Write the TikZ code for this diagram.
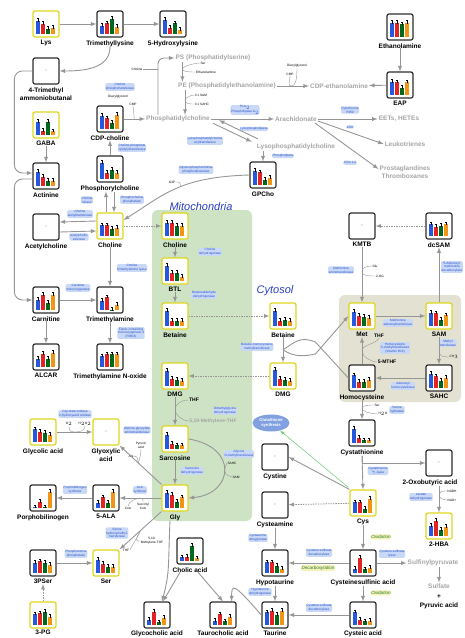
\documentclass[tikz,border=0pt]{standalone}
\usepackage{fontspec}
\setmainfont{Liberation Sans}
\usetikzlibrary{shapes.geometric, arrows, positioning, calc}
\definecolor{boxK}{RGB}{45,45,45}
\definecolor{boxY}{RGB}{222,214,28}
\definecolor{barB}{RGB}{38,88,222}
\definecolor{barR}{RGB}{228,36,36}
\definecolor{barG}{RGB}{0,105,30}
\definecolor{barO}{RGB}{240,150,20}
\definecolor{lineG}{RGB}{150,150,150}
\definecolor{txtG}{RGB}{165,165,165}
\definecolor{enzB}{RGB}{40,80,200}
\definecolor{enzF}{RGB}{200,216,246}
\definecolor{mitoG}{RGB}{205,227,196}
\definecolor{cytoG}{RGB}{226,225,210}
\definecolor{gshB}{RGB}{128,160,224}
\definecolor{gshL}{RGB}{110,200,110}
\definecolor{hlY}{RGB}{246,244,190}
\definecolor{oxG}{RGB}{40,120,40}
\definecolor{ttlB}{RGB}{40,60,190}

% four bars with error bars inside a metabolite box
\newcommand{\bars}[5]{%
  \begin{scope}[shift={(#1.center)}]
    \foreach \h/\c [count=\i] in {#2/barB,#3/barR,#4/barG,#5/barO}{
      \fill[\c] (-15+5*\i,10) rectangle ++(4,-18*\h);
      \draw[line width=0.3pt] (-13+5*\i,11-18*\h) -- ++(0,-3.5);
      \draw[line width=0.3pt] (-14+5*\i,7.5-18*\h) -- ++(2,0);
    }
  \end{scope}}

\begin{document}
\begin{tikzpicture}[
        x=1pt, y=-1pt,
        mb/.style={draw=boxK, line width=1.2pt, rounded corners=2pt, minimum size=26pt, inner sep=0pt, fill=white, text=black!60, font=\fontsize{4}{4}\selectfont},
        yb/.style={mb, draw=boxY},
        lbl/.style={font=\fontsize{6.5}{8}\selectfont\bfseries, inner sep=0pt, align=center},
        lip/.style={font=\fontsize{6.5}{8}\selectfont\bfseries, text=txtG, inner sep=1pt, align=center},
        enz/.style={font=\fontsize{3.2}{3.8}\selectfont, text=enzB, fill=enzF, inner sep=0.6pt, rounded corners=1.5pt, align=center},
        cof/.style={font=\fontsize{3.2}{3.8}\selectfont, inner sep=0.5pt, align=center},
        cofb/.style={font=\fontsize{5}{6}\selectfont\bfseries, inner sep=0.5pt, align=center},
        proc/.style={font=\fontsize{4.6}{5}\selectfont\itshape, text=oxG, fill=hlY, rounded corners=3pt, inner sep=1pt},
        ttl/.style={font=\fontsize{11}{12}\selectfont\itshape, text=ttlB, inner sep=0pt},
        arr/.style={-latex, line width=0.9pt, draw=lineG},
        darr/.style={arr, dash pattern=on 1.5pt off 1pt, line width=0.8pt},
        thn/.style={line width=0.4pt, draw=lineG}
    ]
    \useasboundingbox (0,0) rectangle (464,638);

    % compartments
    \fill[mitoG, rounded corners=6pt] (152,210) rectangle (252,521);
    \fill[cytoG, rounded corners=6pt] (339,295) rectangle (461,402);
    \node[ttl] (mito) at (201,207) {Mitochondria};
    \node[ttl] (cyto) at (275,291) {Cytosol};

    % metabolite boxes
    \node[yb] (lys)     at (46,24)   {};
    \node[mb] (tmlys)   at (110,24)  {};
    \node[mb] (hlys)    at (173,24)  {};
    \node[mb] (tmab)    at (46,71)   {--};
    \node[yb] (gaba)    at (46,125)  {};
    \node[mb] (actin)   at (46,176)  {};
    \node[mb] (cdpc)    at (110,119) {};
    \node[mb] (pchol)   at (110,169) {};
    \node[mb] (achol)   at (46,227)  {--};
    \node[yb] (chol)    at (110,226) {};
    \node[mb] (carn)    at (46,300)  {};
    \node[mb] (tma)     at (110,300) {};
    \node[mb] (alcar)   at (46,357)  {};
    \node[mb] (tmao)    at (110,357) {};
    \node[yb] (glyc)    at (43,432)  {};
    \node[yb] (glyox)   at (106,432) {--};
    \node[mb] (pbg)     at (43,498)  {};
    \node[mb] (ala)     at (106,498) {};
    \node[mb] (pser)    at (43,563)  {};
    \node[yb] (ser)     at (106,563) {};
    \node[yb] (pg)      at (43,615)  {};
    \node[mb] (gpc)     at (263,175) {};
    \node[yb] (mchol)   at (175,226) {};
    \node[yb] (btl)     at (175,271) {};
    \node[yb] (mbet)    at (175,316) {};
    \node[yb] (cbet)    at (283,316) {};
    \node[yb] (mdmg)    at (175,376) {};
    \node[yb] (cdmg)    at (283,376) {};
    \node[yb] (sarc)    at (175,439) {};
    \node[yb] (gly)     at (175,498) {};
    \node[mb] (cholic)  at (190,551) {};
    \node[mb] (glycoch) at (157,615) {};
    \node[mb] (tauroch) at (223,615) {};
    \node[mb] (etn)     at (400,27)  {};
    \node[mb] (eap)     at (400,85)  {};
    \node[mb] (kmtb)    at (362,226) {--};
    \node[mb] (dcsam)   at (439,226) {};
    \node[yb] (met)     at (362,316) {};
    \node[yb] (sam)     at (439,316) {};
    \node[mb] (hcy)     at (362,378) {};
    \node[mb] (sahc)    at (439,378) {};
    \node[mb] (cysta)   at (362,433) {};
    \node[mb] (oxob)    at (439,463) {--};
    \node[mb] (cystine) at (275,457) {--};
    \node[yb] (cys)     at (363,503) {};
    \node[yb] (hba)     at (439,526) {};
    \node[mb] (cysteam) at (275,505) {--};
    \node[mb] (csa)     at (363,563) {};
    \node[mb] (hypot)   at (275,563) {};
    \node[mb] (taur)    at (275,615) {};
    \node[mb] (cysteic) at (363,615) {};

    % names under the boxes
    \node[lbl, below=2.5pt of lys]     (lys-l)     {Lys};
    \node[lbl, below=2.5pt of tmlys]   (tmlys-l)   {Trimethyllysine};
    \node[lbl, below=2.5pt of hlys]    (hlys-l)    {5-Hydroxylysine};
    \node[lbl, below=2.5pt of tmab]    (tmab-l)    {4-Trimethyl\\ammoniobutanal};
    \node[lbl, below=2.5pt of gaba]    (gaba-l)    {GABA};
    \node[lbl, below=2.5pt of actin]   (actin-l)   {Actinine};
    \node[lbl, below=2.5pt of cdpc]    (cdpc-l)    {CDP-choline};
    \node[lbl, below=2.5pt of pchol]   (pchol-l)   {Phosphorylcholine};
    \node[lbl, below=2.5pt of achol]   (achol-l)   {Acetylcholine};
    \node[lbl, below=2.5pt of chol]    (chol-l)    {Choline};
    \node[lbl, below=2.5pt of carn]    (carn-l)    {Carnitine};
    \node[lbl, below=2.5pt of tma]     (tma-l)     {Trimethylamine};
    \node[lbl, below=2.5pt of alcar]   (alcar-l)   {ALCAR};
    \node[lbl, below=2.5pt of tmao]    (tmao-l)    {Trimethylamine N-oxide};
    \node[lbl, below=2.5pt of glyc]    (glyc-l)    {Glycolic acid};
    \node[lbl, below=2.5pt of glyox]   (glyox-l)   {Glyoxylic\\acid};
    \node[lbl, below=2.5pt of pbg]     (pbg-l)     {Porphobilinogen};
    \node[lbl, below=2.5pt of ala]     (ala-l)     {5-ALA};
    \node[lbl, below=2.5pt of pser]    (pser-l)    {3PSer};
    \node[lbl, below=2.5pt of ser]     (ser-l)     {Ser};
    \node[lbl, below=1.5pt of pg]      (pg-l)      {3-PG};
    \node[lbl, below=2.5pt of gpc]     (gpc-l)     {GPCho};
    \node[lbl, below=2.5pt of mchol]   (mchol-l)   {Choline};
    \node[lbl, below=2.5pt of btl]     (btl-l)     {BTL};
    \node[lbl, below=2.5pt of mbet]    (mbet-l)    {Betaine};
    \node[lbl, below=2.5pt of cbet]    (cbet-l)    {Betaine};
    \node[lbl, below=2.5pt of mdmg]    (mdmg-l)    {DMG};
    \node[lbl, below=2.5pt of cdmg]    (cdmg-l)    {DMG};
    \node[lbl, below=2.5pt of sarc]    (sarc-l)    {Sarcosine};
    \node[lbl, below=2.5pt of gly]     (gly-l)     {Gly};
    \node[lbl, below=2.5pt of cholic]  (cholic-l)  {Cholic acid};
    \node[lbl, below=1.5pt of glycoch] (glycoch-l) {Glycocholic acid};
    \node[lbl, below=1.5pt of tauroch] (tauroch-l) {Taurocholic acid};
    \node[lbl, below=2.5pt of etn]     (etn-l)     {Ethanolamine};
    \node[lbl, below=2.5pt of eap]     (eap-l)     {EAP};
    \node[lbl, below=2.5pt of kmtb]    (kmtb-l)    {KMTB};
    \node[lbl, below=2.5pt of dcsam]   (dcsam-l)   {dcSAM};
    \node[lbl, below=2.5pt of met]     (met-l)     {Met};
    \node[lbl, below=2.5pt of sam]     (sam-l)     {SAM};
    \node[lbl, below=2.5pt of hcy]     (hcy-l)     {Homocysteine};
    \node[lbl, below=2.5pt of sahc]    (sahc-l)    {SAHC};
    \node[lbl, below=2.5pt of cysta]   (cysta-l)   {Cystathionine};
    \node[lbl, below=2.5pt of oxob, xshift=-9pt] (oxob-l) {2-Oxobutyric acid};
    \node[lbl, below=2.5pt of cystine] (cystine-l) {Cystine};
    \node[lbl, below=2.5pt of cys]     (cys-l)     {Cys};
    \node[lbl, below=2.5pt of hba]     (hba-l)     {2-HBA};
    \node[lbl, below=2.5pt of cysteam] (cysteam-l) {Cysteamine};
    \node[lbl, below=2.5pt of csa]     (csa-l)     {Cysteinesulfinic acid};
    \node[lbl, below=2.5pt of hypot]   (hypot-l)   {Hypotaurine};
    \node[lbl, below=1.5pt of taur]    (taur-l)    {Taurine};
    \node[lbl, below=1.5pt of cysteic] (cysteic-l) {Cysteic acid};

    % bar charts
    \bars{lys}{.75}{.55}{.3}{.35}
    \bars{tmlys}{.45}{.6}{.85}{.4}
    \bars{hlys}{.8}{.35}{.6}{.25}
    \bars{gaba}{.75}{.25}{.75}{.2}
    \bars{actin}{.8}{.5}{.3}{.3}
    \bars{cdpc}{.75}{.6}{.35}{.8}
    \bars{pchol}{.9}{.35}{.5}{.35}
    \bars{chol}{.6}{.6}{.4}{.45}
    \bars{carn}{.55}{.85}{.4}{.85}
    \bars{tma}{.5}{.7}{.02}{.3}
    \bars{alcar}{.45}{.75}{.45}{.8}
    \bars{tmao}{.6}{.7}{.7}{.7}
    \bars{glyc}{.7}{.55}{.5}{.4}
    \bars{pbg}{.03}{.35}{.03}{.9}
    \bars{ala}{.3}{.6}{.3}{.9}
    \bars{pser}{.55}{.65}{.55}{.45}
    \bars{ser}{.75}{.5}{.35}{.35}
    \bars{pg}{.6}{.65}{.75}{.45}
    \bars{gpc}{.8}{.7}{.3}{.4}
    \bars{mchol}{.75}{.75}{.55}{.55}
    \bars{btl}{.85}{.45}{.45}{.25}
    \bars{mbet}{.85}{.3}{.3}{.3}
    \bars{cbet}{.85}{.3}{.35}{.3}
    \bars{mdmg}{.85}{.4}{.35}{.3}
    \bars{cdmg}{.9}{.4}{.35}{.3}
    \bars{sarc}{.8}{.3}{.2}{.2}
    \bars{gly}{.85}{.75}{.35}{.6}
    \bars{cholic}{.2}{.25}{.85}{.15}
    \bars{glycoch}{.3}{.75}{.15}{.4}
    \bars{tauroch}{.25}{.6}{.2}{.45}
    \bars{etn}{.8}{.8}{.7}{.8}
    \bars{eap}{.75}{.7}{.4}{.7}
    \bars{dcsam}{.65}{.5}{.55}{.65}
    \bars{met}{.8}{.55}{.5}{.45}
    \bars{sam}{.75}{.7}{.35}{.6}
    \bars{hcy}{.7}{.35}{.35}{.45}
    \bars{sahc}{.8}{.65}{.4}{.55}
    \bars{cysta}{.8}{.3}{.15}{.15}
    \bars{cys}{.6}{.6}{.25}{.8}
    \bars{hba}{.55}{.85}{.35}{.5}
    \bars{csa}{.25}{.85}{.2}{.3}
    \bars{hypot}{.6}{.6}{.4}{.25}
    \bars{taur}{.7}{.8}{.55}{.8}
    \bars{cysteic}{.7}{.3}{.2}{.25}

    % lipid names (grey)
    \node[lip] (ps)      at (213,58)  {PS (Phosphatidylserine)};
    \node[lip] (pe)      at (227,86)  {PE (Phosphatidylethanolamine)};
    \node[lip] (pc)      at (178,119) {Phosphatidylcholine};
    \node[lip] (cdpe)    at (339,86)  {CDP-ethanolamine};
    \node[lip] (arach)   at (296,119) {Arachidonate};
    \node[lip] (eets)    at (399,119) {EETs, HETEs};
    \node[lip] (leuk)    at (405,144) {Leukotrienes};
    \node[lip] (prost)   at (405,172) {Prostaglandines\\Thromboxanes};
    \node[lip] (lpc)     at (296,147) {Lysophosphatidylcholine};
    \node[lip] (sulfp)   at (433,563) {Sulfinylpyruvate};
    \node[lip] (sulfate) at (439,586) {Sulfate};
    \node[lbl] (plus)    at (439,597) {+};
    \node[lbl] (pyr)     at (439,606) {Pyruvic acid};
    \node[ellipse, fill=gshB, text=white, font=\fontsize{4.2}{5}\selectfont\bfseries, inner sep=0.3pt, minimum width=37pt, minimum height=17pt, align=center] (gsh) at (271,423) {Glutathione\\synthesis};

    % enzymes
    \node[enz] (e-cpt)   at (120,87)  {Choline\\phosphotransferase};
    \node[enz] (e-pcyt)  at (132,148) {Choline-phosphate\\cytidylyltransferase};
    \node[enz] (e-ck)    at (87,200)  {Choline\\kinase};
    \node[enz] (e-pp)    at (132,200) {Phosphocholine\\phosphatase};
    \node[enz] (e-chat)  at (80,214)  {Choline\\acetyltransferase};
    \node[enz] (e-ache)  at (79,237)  {Acetylcholin-\\esterase};
    \node[enz] (e-ctl)   at (132,268) {Choline\\trimethylamine lyase};
    \node[enz] (e-cmo)   at (78,288)  {Carnitine\\monooxygenase};
    \node[enz] (e-fmo)   at (131,333) {Flavin-containing\\monooxygenase 3\\(FMO3)};
    \node[enz] (e-go)    at (75,414)  {Glycolate oxidase\\2-hydroxyacid oxidase};
    \node[enz] (e-agt)   at (137,430) {Alanine-glyoxylate\\aminotransferase};
    \node[enz] (e-pbgs)  at (75,490)  {Porphobilinogen\\synthase};
    \node[enz] (e-alas)  at (140,490) {ALA\\synthase};
    \node[enz] (e-shmt)  at (117,533) {Serine\\hydroxymethyl-\\transferase};
    \node[enz] (e-psp)   at (76,554)  {Phosphoserine\\phosphatase};
    \node[enz] (e-gpcpd) at (196,170) {Glycerophosphocholine\\phosphodiesterase};
    \node[enz] (e-lpl)   at (254,129) {Lysophospholipase};
    \node[enz] (e-lpcat) at (205,141) {Lysophosphatidylcholine\\acyltransferase};
    \node[enz] (e-pla)   at (245,110) {PLA$_2$\\Phospholipase A$_2$};
    \node[enz] (e-pl)    at (283,156) {Phospholipase};
    \node[enz] (e-cyp)   at (350,110) {Cytochrome\\P450};
    \node[enz] (e-lox)   at (350,127) {LOX};
    \node[enz] (e-cox)   at (350,163) {COX-1,2};
    \node[enz] (e-chdh)  at (210,252) {Choline\\dehydrogenase};
    \node[enz] (e-badh)  at (204,295) {Betainealdehyde\\dehydrogenase};
    \node[enz] (e-bhmt)  at (257,347) {Betaine-homocysteine\\methyltransferase};
    \node[enz] (e-dmgdh) at (225,411) {Dimethylglycine\\dehydrogenase};
    \node[enz] (e-gnmt)  at (239,454) {Glycine\\N-methyltransferase};
    \node[enz] (e-sardh) at (192,471) {Sarcosine\\dehydrogenase};
    \node[enz] (e-at)    at (341,270) {Methionine\\aminotransferase};
    \node[enz] (e-amd)   at (452,267) {S-Adenosyl-\\methionine\\decarboxylase};
    \node[enz] (e-mat)   at (398,323) {Methionine\\adenosyltransferase};
    \node[enz] (e-mt)    at (448,343) {Methyl\\transferase};
    \node[enz] (e-ms)    at (395,348) {Homocysteine\\S-methyltransferase\\(Vitamin B12)};
    \node[enz] (e-ahcy)  at (403,386) {Adenosyl\\homocysteinase};
    \node[enz] (e-sh)    at (397,410) {Serine\\hydratase};
    \node[enz] (e-cgl)   at (378,471) {Cystathionine\\$\gamma$-lyase};
    \node[enz] (e-ldh)   at (421,497) {Lactate\\dehydrogenase};
    \node[enz] (e-cdo)   at (258,538) {Cysteamine\\dioxygenase};
    \node[enz] (e-csl)   at (392,554) {Cysteine sulfinate\\lyase};
    \node[enz] (e-csd1)  at (319,553) {Cysteine sulfinate\\decarboxylase};
    \node[enz] (e-htdh)  at (260,592) {Hypotaurine\\dehydrogenase};
    \node[enz] (e-csd2)  at (319,608) {Cysteine sulfinate\\decarboxylase};
    \node[proc] (p-ox1)  at (381,537) {Oxidation};
    \node[proc] (p-dec)  at (318,568) {Decarboxylation};
    \node[proc] (p-ox2)  at (381,593) {Oxidation};

    % cofactors
    \node[cof]  (c-cho)   at (137,69)  {Choline};
    \node[cof]  (c-dag1)  at (118,97)  {Diacylglycerol};
    \node[cof]  (c-cmp1)  at (133,104) {CMP};
    \node[cof]  (c-ser1)  at (203,63)  {Ser};
    \node[cof]  (c-etn)   at (206,72)  {Ethanolamine};
    \node[cof]  (c-sam1)  at (201,95)  {3 x SAM};
    \node[cof]  (c-sahc1) at (202,104) {3 x SAHC};
    \node[cof]  (c-dag2)  at (297,66)  {Diacylglycerol};
    \node[cof]  (c-cmp2)  at (290,74)  {CMP};
    \node[cof]  (c-g3p)   at (172,182) {G3P};
    \node[cofb] (c-thf1)  at (194,400) {THF};
    \node[cofb, text=txtG] (c-mthf1) at (213,421) {5,10-Methylene-THF};
    \node[cof]  (c-sahc2) at (232,463) {SAHC};
    \node[cof]  (c-sam2)  at (236,477) {SAM};
    \node[cof]  (c-o2)    at (69,424)  {O$_2$};
    \node[cof]  (c-h2o2)  at (85,424)  {H$_2$O$_2$};
    \node[cof]  (c-pyr)   at (141,445) {Pyruvic\\acid};
    \node[cof]  (c-ala)   at (131,456) {Ala};
    \node[cof]  (c-coa)   at (128,508) {CoA};
    \node[cof]  (c-scoa)  at (143,506) {Succinyl\\CoA};
    \node[cof]  (c-mthf2) at (152,541) {5,10-\\Methylene-THF};
    \node[cof]  (c-thf2)  at (126,550) {THF};
    \node[cof]  (c-glu)   at (375,266) {Glu};
    \node[cof]  (c-og)    at (380,276) {2-OG};
    \node[cof]  (c-ch3)   at (454,357) {CH$_3$};
    \node[cofb] (c-thf3)  at (379,336) {THF};
    \node[cofb] (c-mthf3) at (387,362) {5-MTHF};
    \node[cof]  (c-ser2)  at (377,405) {Ser};
    \node[cof]  (c-h2o)   at (383,414) {H$_2$O};
    \node[cof]  (c-nadh)  at (452,491) {NADH};
    \node[cof]  (c-nad)   at (452,500) {NAD+};

    % lysine / carnitine
    \draw[arr] (lys) -- (tmlys);
    \draw[arr] (tmlys) -- (hlys);
    \draw[arr] (tmlys-l.south) .. controls +(0,20) and +(30,0) .. (tmab.east);
    \draw[arr, rounded corners=8pt] (tmab.west) -- ++(-18,0) |- ($(actin.west)+(0,-3)$);
    \draw[arr, rounded corners=8pt] ($(actin.west)+(0,3)$) -- ++(-18,0) |- (carn.west);
    \draw[arr] (gaba-l.south) -- (actin.north);
    \draw[arr] (carn) -- (tma);
    \draw[arr] (carn-l.south) -- (alcar.north);
    \draw[arr] (tma-l.south) -- (tmao.north);

    % choline
    \draw[arr] (pchol.north) -- (cdpc-l.south);
    \draw[arr] ($(chol.north)+(-4,0)$) -- ($(pchol-l.south)+(-4,0)$);
    \draw[arr] ($(pchol-l.south)+(4,0)$) -- ($(chol.north)+(4,0)$);
    \draw[arr] ($(chol.west)+(0,-5)$) -- ($(achol.east)+(0,-5)$);
    \draw[arr] ($(achol.east)+(0,5)$) -- ($(chol.west)+(0,5)$);
    \draw[arr] (chol-l.south) -- (tma.north);
    \draw[darr] (chol) -- (mchol);
    \draw[arr] (cdpc) -- coordinate[pos=.5] (cptd) (pc);
    \draw[thn] (cptd) -- (c-cmp1.south);

    % phospholipids
    \coordinate (pcup) at ($(pc.north west)+(13,0)$);
    \draw[arr, rounded corners=6pt] (pcup) |- (ps.west);
    \draw[thn] (c-cho.east) -- (c-cho.east -| pcup);
    \coordinate (psd) at ($(ps.south west)+(8,0)$);
    \draw[arr] (psd) -- coordinate[pos=.35] (psm) (psd |- pe.north);
    \draw[thn] (psm) .. controls +(0,-3) and +(-4,0) .. (c-ser1.west);
    \draw[thn] (psm) .. controls +(0,3) and +(-4,0) .. (c-etn.west);
    \coordinate (ped) at ($(pe.south west)+(8,0)$);
    \draw[arr] (ped) -- coordinate[pos=.4] (pem) (ped |- pc.north);
    \draw[thn] (pem) .. controls +(0,-2) and +(-4,0) .. (c-sam1.west);
    \draw[thn] (pem) .. controls +(0,4) and +(-4,0) .. (c-sahc1.west);
    \draw[arr] (pe) -- coordinate[pos=.45] (pecd) (cdpe);
    \draw[thn] (c-dag2.south) .. controls +(0,12) and +(4,0) .. (pecd) .. controls +(-4,0) and +(0,6) .. (c-cmp2.south);
    \draw[arr] (eap) -- (cdpe);
    \draw[arr] (etn-l.south) -- (eap.north);
    \draw[arr] (pc) -- (arach);
    \draw[arr] (arach) -- (eets);
    \draw[arr] ($(arach.east)+(0,2)$) -- (leuk.west);
    \draw[arr] ($(arach.east)+(-3,4)$) -- ($(prost.west)+(0,-3)$);
    \draw[arr] ($(pc.south east)+(2,0)$) -- ($(lpc.north west)+(-4,-1)$);
    \draw[arr] ($(lpc.north west)+(2,-4)$) -- ($(pc.south east)+(8,-3)$);
    \draw[arr] (lpc.south -| gpc) -- (gpc.north);
    \draw[arr] (gpc.west) .. controls +(-70,2) and +(40,-25) .. coordinate[pos=.45] (gpd) ($(chol.east)+(0,-6)$);
    \draw[thn] (c-g3p.east) .. controls +(4,0) .. (gpd);

    % mitochondria
    \draw[arr] (mchol-l.south) -- (btl.north);
    \draw[arr] (btl-l.south) -- (mbet.north);
    \draw[darr] (mbet) -- (cbet);
    \draw[arr] (cbet-l.south) -- coordinate[pos=.5] (bhmt) (cdmg.north);
    \draw[darr] (cdmg) -- (mdmg);
    \draw[arr] (mdmg-l.south) -- coordinate[pos=.45] (dmgd) (sarc.north);
    \draw[thn] (c-thf1.west) .. controls +(-8,0) and +(0,-5) .. (dmgd) .. controls +(0,5) and +(-6,0) .. (c-mthf1.west);
    \draw[arr] (sarc-l.south) -- (gly.north);
    \draw[arr] (sarc.east) .. controls +(50,8) and +(45,-4) .. coordinate[pos=.5] (gnm) (gly.east);
    \draw[thn] (gnm) -- (c-sahc2.west);
    \draw[thn] (gnm) .. controls +(2,5) .. (c-sam2.west);

    % glycine
    \draw[arr] (gly.north west) -- coordinate[pos=.55] (agxt) (glyox.south east);
    \draw[thn] (c-pyr.south) .. controls +(0,4) .. (agxt);
    \draw[thn] (c-ala.east) .. controls +(3,0) .. (agxt);
    \draw[arr] (glyc) -- coordinate[pos=.5] (glox) (glyox);
    \draw[thn] (c-o2.south) .. controls +(0,5) and +(-3,0) .. (glox) .. controls +(3,0) and +(0,5) .. (c-h2o2.south);
    \draw[arr] (gly) -- coordinate[pos=.5] (alas) (ala);
    \draw[thn] (c-coa.north) .. controls +(0,-5) and +(-3,0) .. (alas) .. controls +(3,0) and +(0,-3) .. (c-scoa.north);
    \draw[arr] (ala) -- (pbg);
    \draw[arr] (gly.south west) -- coordinate[pos=.5] (shmt) (ser.north east);
    \draw[thn] (c-mthf2.west) .. controls +(-5,0) .. (shmt);
    \draw[thn] (shmt) .. controls +(-3,6) .. (c-thf2.east);
    \draw[arr] (pser) -- (ser);
    \draw[darr] (pg.north) -- (pser-l.south);

    % bile acids
    \draw[arr] ($(gly-l.south)+(-5,0)$) .. controls +(-2,45) and +(8,-30) .. ($(glycoch.north)+(5,0)$);
    \draw[arr] ($(cholic-l.south)+(-10,0)$) -- ($(glycoch.north)+(6,0)$);
    \draw[arr] ($(cholic-l.south)+(8,0)$) -- (tauroch.north);
    \draw[arr] (taur.west) .. controls +(-28,-32) and +(0,-18) .. ($(tauroch.north east)+(-5,0)$);

    % methionine cycle
    \draw[darr] (dcsam) -- (kmtb);
    \draw[arr] (kmtb-l.south) -- coordinate[pos=.45] (kmd) (met.north);
    \draw[thn] (c-glu.west) .. controls +(-6,0) and +(0,-4) .. (kmd) .. controls +(0,4) and +(-6,0) .. (c-og.west);
    \draw[arr] (met) -- (sam);
    \draw[arr] (sam.north) -- (dcsam-l.south);
    \draw[arr] (sam-l.south) -- coordinate[pos=.5] (samd) (sahc.north);
    \draw[thn] (samd) .. controls +(0,6) and +(-5,0) .. (c-ch3.west);
    \draw[arr] (sahc) -- (hcy);
    \draw[arr] (hcy.north) -- coordinate[pos=.5] (hcyu) (met-l.south);
    \draw[thn] (c-thf3.south) .. controls +(-4,6) and +(0,-6) .. (hcyu) .. controls +(0,6) and +(-6,0) .. (c-mthf3.west);
    \coordinate (bh1) at ($(hcy.west)+(-33,-36)$);
    \coordinate (bh2) at ($(met.west)+(-33,38)$);
    \draw[arr, -] (hcy.west) -- (bh1) .. controls +(-15,-6) and +(12,-8) .. (bhmt);
    \draw[arr] (bhmt) .. controls +(12,8) and +(-10,2) .. (bh2) -- (met.west);

    % transsulfuration
    \draw[arr] (hcy-l.south) -- coordinate[pos=.4] (cbs) (cysta.north);
    \draw[thn] (cbs) .. controls +(0,-3) and +(-4,0) .. (c-ser2.west);
    \draw[thn] (cbs) .. controls +(0,4) and +(-4,0) .. (c-h2o.west);
    \draw[arr] (cysta-l.south) |- (oxob.west);
    \draw[arr] (cysta-l.south) -- (cys.north);
    \draw[arr] (oxob-l.south -| oxob) -- coordinate[pos=.4] (ldh) (hba.north);
    \draw[thn] (c-nadh.west) .. controls +(-6,0) .. (ldh) .. controls +(3,3) .. (c-nad.west);
    \draw[arr] (cys.north west) -- (cystine.east);
    \draw[-latex, line width=0.5pt, draw=gshL] ($(cys.north west)+(-1,-2)$) -- (gsh);
    \draw[darr] (cys) -- (cysteam);
    \draw[arr] (cys-l.south) -- (csa.north);
    \draw[arr] (cysteam-l.south) -- (hypot.north);
    \draw[arr] (csa) -- (hypot);
    \draw[arr] (csa) -- (sulfp);
    \draw[arr] (sulfp.south -| sulfate) -- (sulfate.north);
    \draw[arr] (hypot-l.south) -- (taur.north);
    \draw[arr] (csa-l.south) -- (cysteic.north);
    \draw[arr] (cysteic) -- (taur);
\end{tikzpicture}
\end{document}
